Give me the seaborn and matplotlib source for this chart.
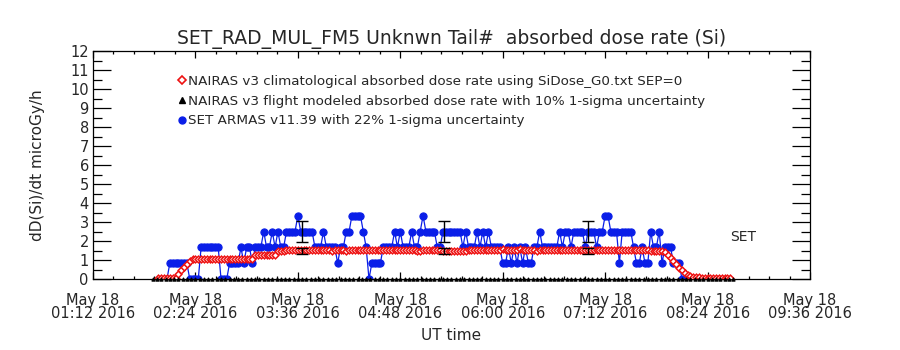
import numpy as np
import pandas as pd
import matplotlib
matplotlib.use("Agg")
import matplotlib.pyplot as plt
from matplotlib.lines import Line2D
from matplotlib.ticker import MultipleLocator, FuncFormatter
import seaborn as sns

# ---------------------------------------------------------------------------
# Data (times are minutes after 00:00 UT on 2016-05-18)
# ---------------------------------------------------------------------------
armas_start, armas_step = 124, 2
armas_dose = [
    0.00, 0.83, 0.83, 0.83, 0.83, 0.83, 0.83, 0.83, 0.00, 0.00,
    0.00, 0.00, 1.67, 1.67, 1.67, 1.67, 1.67, 1.67, 1.67, 0.00,
    0.00, 0.00, 0.83, 0.83, 0.83, 0.83, 1.67, 0.83, 1.67, 1.67,
    0.83, 1.67, 1.67, 1.67, 2.50, 1.67, 1.67, 2.50, 1.67, 2.50,
    1.67, 1.67, 2.50, 2.50, 2.50, 2.50, 3.33, 2.50, 2.50, 2.50,
    2.50, 2.50, 1.67, 1.67, 1.67, 2.50, 1.67, 1.67, 1.67, 1.67,
    0.83, 1.67, 1.67, 2.50, 2.50, 3.33, 3.33, 3.33, 3.33, 2.50,
    1.67, 0.00, 0.83, 0.83, 0.83, 0.83, 1.67, 1.67, 1.67, 1.67,
    2.50, 1.67, 2.50, 1.67, 1.67, 1.67, 2.50, 1.67, 1.67, 2.50,
    3.33, 2.50, 2.50, 2.50, 2.50, 1.67, 1.67, 2.50, 2.50, 2.50,
    2.50, 2.50, 2.50, 2.50, 1.67, 2.50, 1.67, 1.67, 1.67, 2.50,
    1.67, 2.50, 1.67, 2.50, 1.67, 1.67, 1.67, 1.67, 0.83, 0.83,
    1.67, 0.83, 1.67, 0.83, 1.67, 0.83, 1.67, 0.83, 0.83, 1.67,
    1.67, 2.50, 1.67, 1.67, 1.67, 1.67, 1.67, 1.67, 2.50, 1.67,
    2.50, 2.50, 1.67, 2.50, 2.50, 2.50, 2.50, 1.67, 2.50, 2.50,
    2.50, 1.67, 2.50, 2.50, 3.33, 3.33, 2.50, 2.50, 2.50, 0.83,
    2.50, 2.50, 2.50, 2.50, 1.67, 0.83, 0.83, 1.67, 0.83, 0.83,
    2.50, 1.67, 1.67, 2.50, 0.83, 1.67, 1.67, 1.67, 0.83, 0.83,
    0.83, 0.00,
]

clim_start, clim_step = 118, 2
nairas_clim = [
    0.05, 0.05, 0.05, 0.05, 0.05, 0.05, 0.05,
    0.25, 0.45, 0.62, 0.80, 0.95, 1.03,
    1.04, 1.05, 1.04, 1.05, 1.05, 1.04, 1.05, 1.05, 1.04, 1.05, 1.05,
    1.06, 1.05, 1.05, 1.04, 1.05, 1.05, 1.06, 1.05, 1.05, 1.06,
    1.25, 1.26, 1.26, 1.27, 1.26, 1.26, 1.27, 1.27,
    1.47, 1.48, 1.50, 1.51, 1.52, 1.52, 1.53, 1.52, 1.53, 1.52, 1.51, 1.52, 1.53, 1.52, 1.52,
    1.51, 1.52, 1.53, 1.52, 1.50, 1.51, 1.52, 1.53, 1.52, 1.50, 1.51, 1.52, 1.52, 1.53, 1.52,
    1.52, 1.51, 1.52, 1.53, 1.53, 1.52, 1.52, 1.51, 1.52, 1.52, 1.53, 1.52, 1.52, 1.51, 1.52,
    1.53, 1.52, 1.52, 1.51, 1.50, 1.50, 1.51, 1.52, 1.52, 1.53, 1.53, 1.52, 1.51, 1.50, 1.49,
    1.48, 1.48, 1.47, 1.48, 1.48, 1.49, 1.50, 1.51, 1.52, 1.52, 1.53, 1.52, 1.52, 1.51, 1.52,
    1.53, 1.54, 1.55, 1.55, 1.56, 1.55, 1.55, 1.54, 1.55, 1.55, 1.56, 1.55, 1.54, 1.53, 1.52,
    1.51, 1.50, 1.51, 1.52, 1.52, 1.53, 1.52, 1.52, 1.51, 1.52, 1.52, 1.53, 1.52, 1.52, 1.52,
    1.51, 1.52, 1.53, 1.52, 1.52, 1.51, 1.52, 1.53, 1.52, 1.52, 1.51, 1.52, 1.52, 1.53, 1.52,
    1.52, 1.51, 1.52, 1.52, 1.53, 1.52, 1.52, 1.51, 1.52, 1.52, 1.51, 1.50, 1.49, 1.48, 1.47,
    1.45, 1.40, 1.28, 1.12, 0.95, 0.78, 0.60, 0.45, 0.30, 0.20, 0.15, 0.12, 0.10, 0.08,
    0.07, 0.06,
    0.05, 0.05, 0.05, 0.05, 0.05, 0.05, 0.05, 0.05, 0.05,
]

flight_start, flight_step = 114, 3
nairas_flight = [
    0.0, 0.0, 0.0, 0.0, 0.0, 0.0, 0.0, 0.0, 0.0, 0.0, 0.0, 0.0, 0.0, 0.0, 0.0, 0.0, 0.0, 0.0, 0.0, 0.0,
    0.0, 0.0, 0.0, 0.0, 0.0, 0.0, 0.0, 0.0, 0.0, 0.0, 0.0, 0.0, 0.0, 0.0, 0.0, 0.0, 0.0, 0.0, 0.0, 0.0,
    0.0, 0.0, 0.0, 0.0, 0.0, 0.0, 0.0, 0.0, 0.0, 0.0, 0.0, 0.0, 0.0, 0.0, 0.0, 0.0, 0.0, 0.0, 0.0, 0.0,
    0.0, 0.0, 0.0, 0.0, 0.0, 0.0, 0.0, 0.0, 0.0, 0.0, 0.0, 0.0, 0.0, 0.0, 0.0, 0.0, 0.0, 0.0, 0.0, 0.0,
    0.0, 0.0, 0.0, 0.0, 0.0, 0.0, 0.0, 0.0, 0.0, 0.0, 0.0, 0.0, 0.0, 0.0, 0.0, 0.0, 0.0, 0.0, 0.0, 0.0,
    0.0, 0.0, 0.0, 0.0, 0.0, 0.0, 0.0, 0.0, 0.0, 0.0, 0.0, 0.0, 0.0, 0.0, 0.0, 0.0, 0.0, 0.0, 0.0, 0.0,
    0.0, 0.0, 0.0, 0.0, 0.0, 0.0, 0.0, 0.0, 0.0, 0.0, 0.0, 0.0, 0.0, 0.0, 0.0, 0.0, 0.0,
]

# uncertainty bars drawn at a few sample times
err_times = [219, 319, 420]
armas_err_center = [2.50, 2.50, 2.50]
nairas_err_center = [1.48, 1.49, 1.49]
armas_rel_unc = 0.22
nairas_rel_unc = 0.10

x_tick_minutes = [72, 144, 216, 288, 360, 432, 504, 576]
y_ticks = [0, 1, 2, 3, 4, 5, 6, 7, 8, 9, 10, 11, 12]

legend_labels = [
    "NAIRAS v3 climatological absorbed dose rate using SiDose_G0.txt SEP=0",
    "NAIRAS v3 flight modeled absorbed dose rate with 10% 1-sigma uncertainty",
    "SET ARMAS v11.39 with 22% 1-sigma uncertainty",
]

armas = pd.DataFrame({
    "t": armas_start + armas_step * np.arange(len(armas_dose)),
    "dose": armas_dose,
})
clim = pd.DataFrame({
    "t": clim_start + clim_step * np.arange(len(nairas_clim)),
    "dose": nairas_clim,
})
flight = pd.DataFrame({
    "t": flight_start + flight_step * np.arange(len(nairas_flight)),
    "dose": nairas_flight,
})

# ---------------------------------------------------------------------------
# Figure
# ---------------------------------------------------------------------------
sns.set_style("white")
plt.rcParams["font.family"] = ["DejaVu Sans"]

BLUE = "#0a1ee8"
RED = "#ee1111"

fig = plt.figure(figsize=(9, 3.5), dpi=100)
ax = fig.add_axes([93 / 900, 1 - 279 / 350, 717 / 900, 228 / 350])

sns.lineplot(data=armas, x="t", y="dose", ax=ax, color=BLUE, linewidth=0.9,
             marker="o", markersize=5.2, markeredgecolor=BLUE,
             markerfacecolor=BLUE, estimator=None, sort=False, zorder=2)
sns.lineplot(data=clim, x="t", y="dose", ax=ax, color=RED, linewidth=0.8,
             marker="D", markersize=3.4, markeredgecolor=RED,
             markerfacecolor="white", markeredgewidth=1.1,
             estimator=None, sort=False, zorder=3)
sns.lineplot(data=flight, x="t", y="dose", ax=ax, color="black", linewidth=0.6,
             marker="^", markersize=2.4, markeredgecolor="black",
             markerfacecolor="black", estimator=None, sort=False, zorder=4,
             clip_on=False)

ax.errorbar(err_times, armas_err_center,
            yerr=[armas_rel_unc * v for v in armas_err_center],
            fmt="none", ecolor="black", elinewidth=1.0, capsize=4,
            capthick=1.0, zorder=5)
ax.errorbar(err_times, nairas_err_center,
            yerr=[nairas_rel_unc * v for v in nairas_err_center],
            fmt="none", ecolor="black", elinewidth=1.0, capsize=4,
            capthick=1.0, zorder=5)

ax.text(520, 2.2, "SET", fontsize=10, va="center", ha="left")

# axes, ticks and labels in a boxed, inward-tick style
ax.set_xlim(x_tick_minutes[0], x_tick_minutes[-1])
ax.set_ylim(y_ticks[0], y_ticks[-1])
ax.set_xticks(x_tick_minutes)
ax.xaxis.set_minor_locator(MultipleLocator(14.4))
ax.set_yticks(y_ticks)
ax.yaxis.set_minor_locator(MultipleLocator(0.5))


def fmt_time(v, pos):
    m = int(round(v))
    return f"May 18\n{m // 60:02d}:{m % 60:02d} 2016"


ax.xaxis.set_major_formatter(FuncFormatter(fmt_time))

for side in ["left", "right", "top", "bottom"]:
    ax.spines[side].set_visible(True)
    ax.spines[side].set_color("black")
    ax.spines[side].set_linewidth(0.9)

ax.tick_params(axis="x", which="major", direction="in", length=5, width=0.9,
               top=True, bottom=True, labelsize=10.5, pad=10, color="black")
ax.tick_params(axis="x", which="minor", direction="in", length=2.5, width=0.9,
               top=True, bottom=True, color="black")
ax.tick_params(axis="y", which="major", direction="in", length=13, width=0.9,
               left=True, right=True, labelsize=10.5, pad=3, color="black")
ax.tick_params(axis="y", which="minor", direction="in", length=6.5, width=0.9,
               left=True, right=True, color="black")
for lab in ax.get_xticklabels():
    lab.set_linespacing(0.85)

ax.set_xlabel("UT time", fontsize=11, labelpad=5)
ax.set_ylabel("dD(Si)/dt microGy/h", fontsize=11, labelpad=18)
ax.set_title("SET_RAD_MUL_FM5 Unknwn Tail#  absorbed dose rate (Si)",
             fontsize=13.5, pad=5)

handles = [
    Line2D([], [], linestyle="none", marker="D", markersize=4,
           markeredgecolor=RED, markerfacecolor="white", markeredgewidth=1.2),
    Line2D([], [], linestyle="none", marker="^", markersize=5,
           markeredgecolor="black", markerfacecolor="black"),
    Line2D([], [], linestyle="none", marker="o", markersize=5,
           markeredgecolor=BLUE, markerfacecolor=BLUE),
]
ax.legend(handles, legend_labels, loc="upper left",
          bbox_to_anchor=(0.118, 0.895), frameon=False, fontsize=9.7,
          handlelength=0.6, handletextpad=0.15, labelspacing=0.5,
          borderpad=0, borderaxespad=0)

fig.savefig("out.png", dpi=100, facecolor="white")
